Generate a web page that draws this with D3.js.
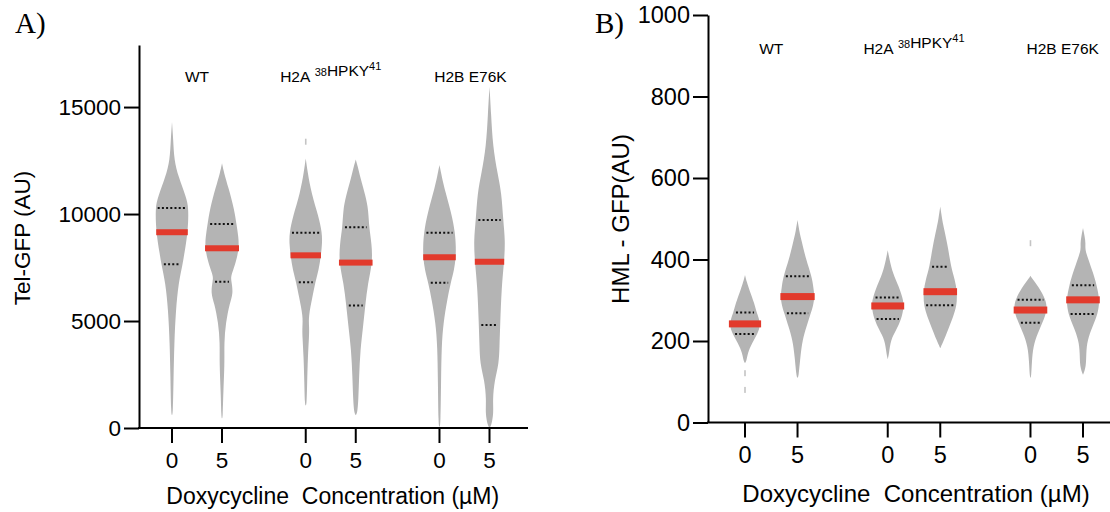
<!DOCTYPE html>
<html>
<head>
<meta charset="utf-8">
<script src="https://cdn.jsdelivr.net/npm/d3@7"></script>
<style>
  body { margin: 0; background: #fff; }
  svg { font-family: "Liberation Sans", Arial, sans-serif; }
</style>
</head>
<body>
<div id="chart"></div>
<script>
// conditions: groups x doxycycline dose
const groups = ["WT", "H2A", "H2B"]
const doses = ["0", "5"]
const groupLabels = [
  [{ t: "WT" }],
  [{ t: "H2A\u00a0" }, { t: "38", sup: true }, { t: "HPKY" }, { t: "41", sup: true }],
  [{ t: "H2B E76K" }]
]

// panel A : Tel-GFP, violin profiles as [value, relative density], order WT0 WT5 H2A0 H2A5 H2B0 H2B5
const telProfiles = [
  [[14300,0],[13500,0.07],[12520,0.12],[11740,0.37],[10810,0.8],[10280,0.96],[9110,0.9],[8180,0.71],[7660,0.61],[6770,0.37],[5510,0.22],[3970,0.13],[2400,0.09],[650,0.05],[600,0]],
  [[12370,0],[11900,0.12],[11280,0.35],[10190,0.71],[9530,0.82],[8940,0.94],[8400,0.97],[7850,0.82],[7380,0.64],[7070,0.5],[6840,0.54],[6300,0.64],[5840,0.44],[4900,0.21],[3970,0.12],[3040,0.15],[1630,0.07],[500,0.04],[450,0]],
  [[12600,0],[12000,0.1],[10970,0.32],[9870,0.74],[9130,0.93],[8630,0.94],[8070,0.87],[7380,0.74],[6810,0.54],[6140,0.39],[5200,0.15],[4700,0.2],[4270,0.19],[3330,0.12],[2090,0.08],[1100,0.05],[1050,0]],
  [[12550,0],[12200,0.12],[11740,0.25],[10810,0.57],[10190,0.72],[9380,0.76],[8630,0.91],[7730,0.96],[6760,0.69],[5720,0.54],[4740,0.42],[3640,0.26],[2400,0.19],[1310,0.15],[700,0.09],[600,0]],
  [[12290,0],[11900,0.1],[11280,0.25],[10030,0.69],[9130,0.89],[8470,0.94],[7980,0.93],[7380,0.84],[6790,0.64],[5980,0.44],[4890,0.22],[3800,0.12],[2240,0.09],[100,0.06],[60,0]],
  [[15950,0],[14700,0.09],[13150,0.19],[11900,0.46],[10970,0.69],[9720,0.78],[8790,0.9],[7770,0.84],[6600,0.69],[4810,0.61],[3800,0.57],[3020,0.54],[2240,0.29],[1310,0.18],[700,0.24],[100,0.1],[0,0]]
]
const telMedians = [9150, 8400, 8070, 7730, 7980, 7770]
const telQ3 = [10280, 9530, 9130, 9380, 9130, 9720]
const telQ1 = [7650, 6840, 6810, 5720, 6790, 4810]
const telOutliers = [[2, 13380]]
const telTicks = [0, 5000, 10000, 15000]

// panel B : HML-GFP
const hmlProfiles = [
  [[362,0],[345,0.1],[325,0.25],[292,0.54],[270,0.66],[242,0.92],[217,0.71],[194,0.39],[170,0.15],[150,0.08],[146,0]],
  [[497,0],[470,0.1],[448,0.22],[399,0.49],[359,0.81],[333,0.9],[309,0.98],[284,0.88],[268,0.75],[235,0.51],[202,0.28],[161,0.16],[112,0.06],[110,0]],
  [[423,0],[400,0.1],[366,0.29],[333,0.64],[307,0.84],[286,0.94],[254,0.78],[227,0.49],[202,0.16],[170,0.08],[155,0]],
  [[530,0],[500,0.1],[480,0.19],[431,0.44],[382,0.61],[350,0.84],[321,0.96],[288,0.95],[260,0.74],[227,0.44],[202,0.21],[182,0]],
  [[360,0],[350,0.15],[333,0.46],[301,0.88],[276,0.96],[245,0.69],[219,0.41],[186,0.15],[149,0.08],[112,0.04],[110,0]],
  [[477,0],[455,0.1],[440,0.15],[425,0.12],[407,0.25],[366,0.59],[337,0.78],[301,0.96],[266,0.85],[235,0.54],[202,0.25],[170,0.18],[137,0.18],[117,0]]
]
const hmlMedians = [242, 309, 286, 321, 276, 301]
const hmlQ3 = [270, 359, 307, 382, 301, 337]
const hmlQ1 = [217, 268, 254, 288, 245, 266]
const hmlOutliers = [[0, 121], [0, 80], [4, 440]]
const hmlTicks = [0, 200, 400, 600, 800, 1000]

const svg = d3.select('#chart')
  .append('svg')
  .attr('width', 1110)
  .attr('height', 512)

svg.append('rect').attr('width', 1110).attr('height', 512).attr('fill', '#fff')

const drawPanel = (p) => {
  const g = svg.append('g')

  const y = d3.scaleLinear().domain([0, p.yMax]).range([p.y0, p.yTop])
  const xg = d3.scaleBand().domain(groups).range(p.xRange).paddingInner(p.padIn).paddingOuter(0)
  const xd = d3.scalePoint().domain(doses).range([0, xg.bandwidth()])
  const cx = (i) => xg(groups[Math.floor(i / 2)]) + xd(doses[i % 2])
  const w = d3.scaleLinear().domain([0, 1]).range([0, 17.5])

  // violins
  p.profiles.forEach((prof, i) => {
    const c = cx(i)
    const area = d3.area()
      .curve(d3.curveBasis)
      .y(d => y(d[0]))
      .x0(d => c - w(d[1]))
      .x1(d => c + w(d[1]))
    g.append('path')
      .attr('d', area(prof))
      .attr('fill', '#b4b4b4')

    const dens = d3.scaleLinear().domain(prof.map(d => d[0])).range(prof.map(d => d[1]))

    ;[p.q1[i], p.q3[i]].forEach(q => {
      const hw = w(dens(q)) - 2.5
      g.append('line')
        .attr('x1', c - hw).attr('x2', c + hw)
        .attr('y1', y(q)).attr('y2', y(q))
        .attr('stroke', '#111')
        .attr('stroke-width', 2)
        .attr('stroke-dasharray', '2,2.2')
    })

    const mw = w(dens(p.medians[i]))
    g.append('rect')
      .attr('x', c - mw)
      .attr('width', 2 * mw)
      .attr('y', y(p.medians[i]) - p.barH / 2)
      .attr('height', p.barH)
      .attr('fill', '#e23a2c')
  })

  p.outliers.forEach(o => {
    g.append('rect')
      .attr('x', cx(o[0]) - 0.8)
      .attr('y', y(o[1]) - 3)
      .attr('width', 1.6)
      .attr('height', 6)
      .attr('fill', '#c4c4c4')
  })

  // y axis
  const ya = g.append('g')
    .attr('transform', 'translate(' + p.xAxis + ',0)')
    .call(d3.axisLeft(y).tickValues(p.ticks).tickSize(15).tickSizeOuter(0).tickPadding(3).tickFormat(d3.format('d')))
  ya.selectAll('path, line').attr('stroke', '#000').attr('stroke-width', 2)
  ya.selectAll('text').attr('font-size', p.tickFont).attr('font-family', '"Liberation Sans", Arial, sans-serif').attr('fill', '#000')

  // x axis
  g.append('line')
    .attr('x1', p.xAxis - 1).attr('x2', p.xEnd)
    .attr('y1', p.y0).attr('y2', p.y0)
    .attr('stroke', '#000').attr('stroke-width', 2)

  d3.range(6).forEach(i => {
    g.append('line')
      .attr('x1', cx(i)).attr('x2', cx(i))
      .attr('y1', p.y0).attr('y2', p.y0 + 15)
      .attr('stroke', '#000').attr('stroke-width', 2)
    g.append('text')
      .attr('x', cx(i))
      .attr('y', p.y0 + 40)
      .attr('text-anchor', 'middle')
      .attr('font-size', p.tickFont)
      .text(doses[i % 2])
  })

  g.append('text')
    .attr('x', (cx(0) + cx(5)) / 2 + 2)
    .attr('y', p.titleY)
    .attr('text-anchor', 'middle')
    .attr('font-size', p.titleFont)
    .style('white-space', 'pre')
    .text('Doxycycline  Concentration (\u00b5M)')

  g.append('text')
    .attr('transform', 'translate(' + p.yLabX + ',' + p.yLabY + ') rotate(-90)')
    .attr('text-anchor', 'middle')
    .attr('font-size', p.yLabFont)
    .text(p.yLabel)

  // group labels
  groupLabels.forEach((parts, k) => {
    const t = g.append('text')
      .attr('x', xg(groups[k]) + xg.bandwidth() / 2 + (k === 2 ? 6 : 0))
      .attr('y', p.groupY)
      .attr('text-anchor', 'middle')
      .attr('font-size', 15.5)
      .style('white-space', 'pre')
    parts.forEach(s => {
      t.append('tspan')
        .attr('font-size', s.sup ? 11 : 15.5)
        .attr('dy', s.sup ? -6 : 0)
        .text(s.t)
      if (s.sup) t.append('tspan').attr('dy', 6).text('')
    })
  })

  g.append('text')
    .attr('x', p.letterX)
    .attr('y', 33)
    .style('font-family', '"Liberation Serif", "Times New Roman", serif')
    .attr('font-size', 29)
    .text(p.letter)
}

drawPanel({
  letter: 'A)', letterX: 15,
  profiles: telProfiles, medians: telMedians, q1: telQ1, q3: telQ3, outliers: telOutliers,
  ticks: telTicks, yMax: 17900, y0: 428, yTop: 45,
  xAxis: 139, xEnd: 528, xRange: [172, 489.5], padIn: 0.626,
  tickFont: 22.5, titleFont: 23, titleY: 504, barH: 6,
  yLabel: 'Tel-GFP (AU)', yLabX: 30, yLabY: 238, yLabFont: 22.5,
  groupY: 82
})

drawPanel({
  letter: 'B)', letterX: 595,
  profiles: hmlProfiles, medians: hmlMedians, q1: hmlQ1, q3: hmlQ3, outliers: hmlOutliers,
  ticks: hmlTicks, yMax: 1000, y0: 422.5, yTop: 15,
  xAxis: 708, xEnd: 1110, xRange: [745, 1083], padIn: 0.632,
  tickFont: 23.5, titleFont: 24, titleY: 502, barH: 7,
  yLabel: 'HML - GFP(AU)', yLabX: 629, yLabY: 219, yLabFont: 24,
  groupY: 54
})
</script>
</body>
</html>
